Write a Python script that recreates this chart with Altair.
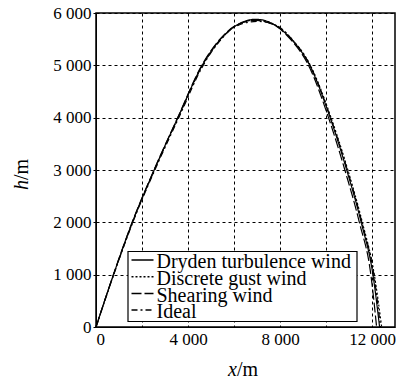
import altair as alt
import pandas as pd

series_names = ["Dryden turbulence wind", "Discrete gust wind", "Shearing wind", "Ideal"]

h_dryden = [0, 1000, 2000, 3000, 4000, 5000, 5500, 5750, 5880, 5750, 5500, 5000, 4000, 3000, 2000, 1000, 0]
x_dryden = [0, 760, 1580, 2530, 3560, 4620, 5410, 6050, 6950, 7850, 8490, 9290, 10180, 10900, 11530, 12040, 12330]

h_gust = [0, 1000, 2000, 3000, 4000, 5000, 5500, 5750, 5870, 5750, 5500, 5000, 4000, 3000, 2000, 1000, 0]
x_gust = [0, 765, 1590, 2540, 3570, 4640, 5430, 6070, 6970, 7880, 8520, 9320, 10220, 10950, 11580, 12100, 12420]

h_shear = [0, 1000, 2000, 3000, 4000, 5000, 5500, 5750, 5860, 5750, 5500, 5000, 4000, 3000, 2000, 1000, 0]
x_shear = [0, 755, 1570, 2520, 3550, 4600, 5390, 6030, 6930, 7820, 8450, 9240, 10110, 10820, 11450, 11950, 12200]

h_ideal = [0, 1000, 2000, 3000, 4000, 5000, 5500, 5750, 5840, 5750, 5500, 5000, 4000, 3000, 2000, 1000, 0]
x_ideal = [0, 770, 1600, 2560, 3600, 4660, 5450, 6100, 7000, 7890, 8520, 9310, 10200, 10930, 11560, 12080, 12370]

x_ticks = [0, 2000, 4000, 6000, 8000, 10000, 12000]
y_ticks = [0, 1000, 2000, 3000, 4000, 5000, 6000]

dashes = [[1, 0], [2, 2], [10, 3], [6, 3, 2, 3]]

rows = []
for name, xs, hs in zip(series_names,
                        [x_dryden, x_gust, x_shear, x_ideal],
                        [h_dryden, h_gust, h_shear, h_ideal]):
    for i, (xv, hv) in enumerate(zip(xs, hs)):
        rows.append({"series": name, "x": xv, "h": hv, "order": i})
df = pd.DataFrame(rows)

FONT = "Liberation Serif"
fmt = "replace(format(datum.value, ','), ',', ' ')"

lines = alt.Chart(df).mark_line(color="black", strokeWidth=1.2, interpolate="monotone").encode(
    x=alt.X("x:Q", scale=alt.Scale(domain=[0, 13000], nice=False),
            axis=alt.Axis(values=x_ticks, title=None, grid=True,
                          labelExpr="datum.value % 4000 == 0 ? " + fmt + " : ''",
                          ticks=False, labelPadding=4, labelOverlap=False)),
    y=alt.Y("h:Q", scale=alt.Scale(domain=[0, 6000], nice=False),
            axis=alt.Axis(values=y_ticks, title=None, grid=True,
                          labelExpr=fmt, tickSize=3, labelPadding=2, labelOverlap=False)),
    strokeDash=alt.StrokeDash("series:N", sort=series_names,
                              scale=alt.Scale(domain=series_names, range=dashes),
                              legend=None),
    order="order:Q",
    detail="series:N",
)

one = pd.DataFrame({"a": [0]})

def label(text, x, y, align, italic=False, angle=0, size=20):
    return alt.Chart(one).mark_text(text=text, align=align, baseline="alphabetic", font=FONT,
                                    fontSize=size, fontStyle="italic" if italic else "normal",
                                    color="black", angle=angle).encode(
        x=alt.value(x), y=alt.value(y))

# legend (drawn as a boxed key inside the plot, like the original)
legend_box = alt.Chart(one).mark_rect(fill="white", stroke="black", strokeWidth=1.2).encode(
    x=alt.value(32), x2=alt.value(261), y=alt.value(238.5), y2=alt.value(308.5))
legend_layers = [legend_box]
for k, (name, dash) in enumerate(zip(series_names, dashes)):
    sy = 247 + k * 16.7
    legend_layers.append(
        alt.Chart(one).mark_rule(color="black", strokeWidth=1.5, strokeDash=dash).encode(
            x=alt.value(35.5), x2=alt.value(57.5), y=alt.value(sy)))
    legend_layers.append(label(name, 60.5, sy + 8.3, "left"))

titles = [
    label("x", 141, 363, "right", italic=True),
    label("/m", 141, 363, "left"),
    label("h", -68, 167, "right", italic=True, angle=270),
    label("/m", -68, 167, "left", angle=270),
]

chart = alt.layer(lines, *legend_layers, *titles).properties(
    width=299, height=314,
    background="white",
    autosize=alt.AutoSizeParams(type="none"),
    padding={"left": 96, "top": 13, "right": 13, "bottom": 58},
).configure_view(stroke="black", strokeWidth=1.5).configure_axis(
    labelFont=FONT, labelFontSize=17, labelColor="black",
    domainColor="black", tickColor="black",
    gridColor="black", gridDash=[3, 3], gridOpacity=1, gridWidth=1,
)

chart.save("out.html", embed_options={"renderer": "svg", "actions": False})
